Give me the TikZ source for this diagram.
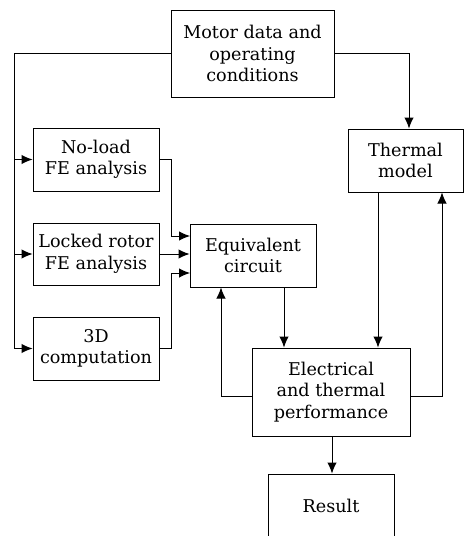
\documentclass[tikz,border=0pt]{standalone}
\usepackage{fontspec}
\setmainfont{DejaVu Serif}
\usetikzlibrary{arrows.meta}
\begin{document}
\begin{tikzpicture}[x=1pt,y=-1pt,
  box/.style={draw, line width=1pt, align=center, inner sep=0pt,
    font=\fontsize{17.6}{21.5}\selectfont},
  conn/.style={line width=1pt},
  arr/.style={conn, -{Latex[length=11pt,width=9.5pt]}}]
\useasboundingbox (0,0) rectangle (464,536);
\node[box, minimum width=163pt, minimum height=87pt] (motor) at (252.5,53.5) {Motor data and\\operating\\conditions};
\node[box, minimum width=126pt, minimum height=63pt] (noload) at (96,159.5) {No-load\\FE analysis};
\node[box, minimum width=126pt, minimum height=62pt] (locked) at (96,254) {Locked rotor\\FE analysis};
\node[box, minimum width=126pt, minimum height=63pt] (threeD) at (96,348.5) {3D\\computation};
\node[box, minimum width=115pt, minimum height=63pt] (thermal) at (405.5,160.5) {Thermal\\model};
\node[box, minimum width=126pt, minimum height=63pt] (equiv) at (253,255.5) {Equivalent\\circuit};
\node[box, minimum width=158pt, minimum height=88pt] (elec) at (331,392) {Electrical\\and thermal\\performance};
\node[box, minimum width=126pt, minimum height=63pt] (result) at (331,505.5) {Result};
% left feed
\coordinate (L) at (14,53.5);
\draw[arr] (motor.west) -- (L) |- (threeD.west);
\draw[arr] (L |- noload.west) -- (noload.west);
\draw[arr] (L |- locked.west) -- (locked.west);
% right feed
\coordinate (R) at (409,53.5);
\draw[arr] (motor.east) -- (R) -- (R |- thermal.north);
% inputs to equivalent circuit
\coordinate (J) at (171,0);
\coordinate (E1) at (190,236);
\coordinate (E3) at (190,273);
\draw[arr] (noload.east) -| (J |- E1) -- (E1);
\draw[arr] (locked.east) -- (locked.east -| equiv.west);
\draw[arr] (threeD.east) -| (J |- E3) -- (E3);
% equivalent circuit to performance
\coordinate (D) at (284,0);
\draw[arr] (D |- equiv.south) -- (D |- elec.north);
\coordinate (U) at (221,396);
\draw[arr] (elec.west |- U) -- (U) -- (U |- equiv.south);
% thermal loop
\coordinate (T) at (378,0);
\draw[arr] (T |- thermal.south) -- (T |- elec.north);
\coordinate (V) at (442,396);
\draw[arr] (elec.east |- V) -- (V) -- (V |- thermal.south);
% result
\draw[arr] (elec.south -| 332,0) -- (result.north -| 332,0);
\end{tikzpicture}
\end{document}
